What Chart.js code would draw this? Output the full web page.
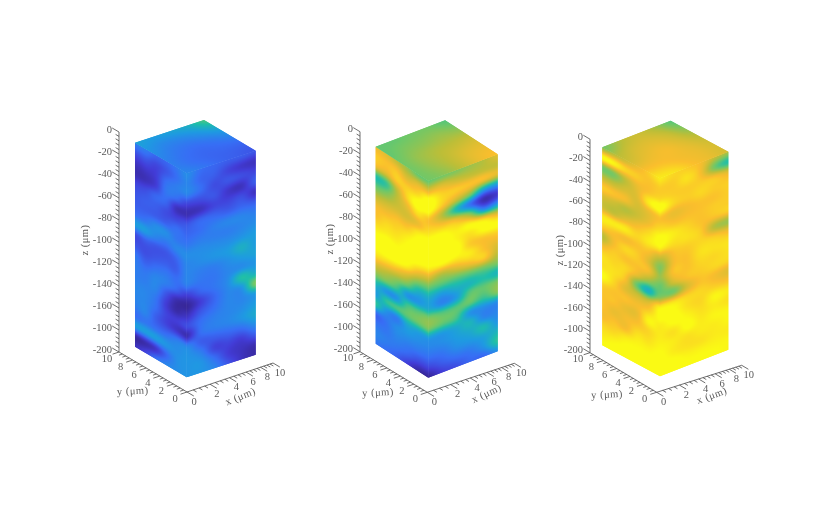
<!DOCTYPE html>
<html>
<head>
<meta charset="utf-8">
<title>Three depth profiles</title>
<style>
  html, body { margin: 0; padding: 0; background: #fff; }
  canvas { display: block; filter: blur(0.3px); }
</style>
<script src="https://cdn.jsdelivr.net/npm/chart.js@4/dist/chart.umd.min.js"></script>
</head>
<body>
<canvas id="chart" width="830" height="507"></canvas>
<script>
'use strict';

/* ── axis ticks ── */
const xTicks = [0, 2, 4, 6, 8, 10];
const yTicks = [0, 2, 4, 6, 8, 10];
const zTicks = [0, -20, -40, -60, -80, -100, -120, -140, -160, -180, -200];
const xyLabels = ['0', '2', '4', '6', '8', '10'];
const zLabels = ['0', '-20', '-40', '-60', '-80', '-100', '-120', '-140', '-160', '-100', '-200'];
const xyMinorStep = 0.5;
const zMinorStep = 4;

/* ── colour values (0-100), one inner array per column, top of the block first ── */
const left1 = [
  [28,16,8,6,14,18,20,24,36,16,18,26,28,28,30,30,28,24,36,4,8],
  [28,18,10,7,16,20,20,26,36,20,16,20,26,28,30,30,30,26,36,6,14],
  [22,14,12,12,22,20,20,32,30,18,18,24,30,30,26,24,20,24,36,10,24],
  [22,18,24,26,22,16,20,32,26,18,20,26,28,18,12,14,14,24,34,22,30],
  [26,24,28,24,8,14,24,26,30,22,20,24,22,6,4,12,10,28,32,32,32],
  [32,30,30,14,6,18,22,26,32,30,30,28,12,2,8,16,6,30,34,34,34]
];
const right1 = [
  [32,30,30,14,6,18,22,26,32,30,30,28,12,2,8,16,6,30,34,34,34],
  [24,22,24,16,8,22,24,28,32,32,28,26,22,12,18,24,24,20,28,34,34],
  [22,20,16,18,14,22,28,28,32,34,28,26,26,22,24,28,28,20,14,24,30],
  [20,14,18,10,14,20,30,28,32,36,32,30,32,30,30,30,30,22,14,12,18],
  [20,10,16,8,16,22,30,30,34,42,36,32,48,34,30,32,34,24,12,8,8],
  [18,8,14,20,8,20,28,32,36,36,38,34,42,62,36,36,40,32,20,6,4]
];
const top1 = [
  [38,36,38,42,54],
  [34,30,30,34,40],
  [30,26,24,26,30],
  [28,24,22,22,22],
  [30,26,22,20,18]
];
const left2 = [
  [80,86,80,48,58,72,82,84,90,96,96,90,76,62,44,36,50,22,26,30,26],
  [78,84,78,52,62,74,82,88,92,98,98,88,72,60,34,50,34,26,26,28,24],
  [72,84,86,72,72,76,84,88,92,96,98,84,66,52,34,54,28,32,30,26,20],
  [66,76,86,88,80,76,84,92,96,98,94,76,58,34,52,58,40,34,28,22,12],
  [58,78,88,98,90,80,92,98,100,96,82,62,42,34,56,60,38,32,26,16,4],
  [58,78,98,98,84,88,96,100,100,92,74,56,40,40,62,62,36,30,24,14,2]
];
const right2 = [
  [58,78,98,98,84,88,96,100,100,92,74,56,40,40,62,62,36,30,24,14,2],
  [60,78,88,86,70,84,96,100,100,94,70,56,36,30,56,58,36,32,26,20,12],
  [62,74,86,74,46,80,92,94,98,92,76,56,42,36,56,54,40,36,32,24,16],
  [66,72,84,62,25,64,94,90,86,92,82,58,44,56,58,34,44,40,34,26,22],
  [70,72,82,38,6,30,88,96,84,84,86,60,48,58,52,32,30,46,38,34,22],
  [78,72,78,36,10,34,78,96,86,78,72,62,44,62,62,32,30,34,44,50,32]
];
const top2 = [
  [58,58,60,60,56],
  [58,62,64,66,64],
  [60,66,70,72,74],
  [60,66,72,78,80],
  [60,64,72,80,84]
];
const left3 = [
  [64,96,60,72,86,76,74,92,86,70,82,90,90,96,86,84,84,82,88,92,96],
  [70,94,62,72,84,74,72,92,84,82,86,88,90,88,84,84,80,84,88,94,97],
  [74,88,72,76,82,70,78,92,82,88,84,88,84,78,84,80,82,82,92,96,97],
  [80,86,80,78,76,74,82,88,84,86,84,80,58,74,82,80,84,90,94,96,97],
  [86,84,84,92,80,80,88,92,84,78,82,66,42,74,86,94,88,90,94,96,97],
  [92,86,88,98,84,88,96,94,74,62,66,58,62,92,96,92,92,94,96,96,97]
];
const right3 = [
  [92,86,88,98,84,88,96,94,74,62,66,58,62,92,96,92,92,94,96,96,97],
  [88,86,86,88,80,84,92,90,84,82,84,76,60,90,96,96,90,92,92,96,97],
  [86,90,86,86,82,84,88,90,86,84,84,84,76,88,90,94,96,90,90,94,96],
  [82,82,86,88,84,84,84,86,88,90,88,86,84,88,88,90,92,92,90,94,96],
  [72,60,84,86,84,86,84,70,86,90,88,88,82,86,94,92,94,92,92,94,96],
  [68,48,78,86,86,86,86,66,82,90,90,88,78,84,92,90,94,94,92,94,94]
];
const top3 = [
  [60,70,74,68,56],
  [70,76,78,74,64],
  [76,80,82,78,72],
  [84,84,82,80,76],
  [92,90,84,80,76]
];

/* ── colour ramp stops ── */
const rampStops = [
  [53,35,140],[66,60,215],[55,110,245],[30,155,225],[30,190,170],
  [110,200,105],[190,190,55],[250,190,45],[250,250,20]
];
const RAMP_TOP = 95;

/* ── panel layout, in canvas units ── */
const panels = [
  { grids: [left1, right1, top1], origin: [187, 392], xVec: [86, -29], yVec: [-68, -40], zLen: 220,
    front: [186.7, 173.3], toLeft: [-51.7, -30.6], toRight: [69, -22.6], height: 204,
    zTitle: [85, 240], yTitle: [132.7, 391.5, -3], xTitle: [240.7, 397, -22] },
  { grids: [left2, right2, top2], origin: [427.3, 392.3], xVec: [87, -29], yVec: [-67.3, -40.6], zLen: 220,
    front: [428.3, 180.7], toLeft: [-52.6, -34], toRight: [69.4, -26.4], height: 197,
    zTitle: [330, 239], yTitle: [378, 393, -3], xTitle: [486.7, 394, -25] },
  { grids: [left3, right3, top3], origin: [656.7, 392.3], xVec: [85, -27], yVec: [-66.7, -39.6], zLen: 213.5,
    front: [660, 178.3], toLeft: [-57.7, -31], toRight: [68.3, -26.6], height: 198,
    zTitle: [560, 250], yTitle: [607, 395, -3], xTitle: [712, 396, -20] }
];

const X_PERSPECTIVE = 0.046;

/* x axis bunches up towards its far end, y and z stay even */
function xFraction(x) {
  return (x * (1 + 10 * X_PERSPECTIVE)) / (10 * (1 + X_PERSPECTIVE * x));
}

function project(panel, x, y, z) {
  const fx = xFraction(x);
  const fy = y / 10;
  const fz = -z / 200;
  return {
    x: panel.origin[0] + panel.xVec[0] * fx + panel.yVec[0] * fy,
    y: panel.origin[1] + panel.xVec[1] * fx + panel.yVec[1] * fy - panel.zLen * (1 - fz)
  };
}

function values(from, to, step) {
  const out = [];
  const n = Math.round((to - from) / step);
  for (let i = 0; i <= n; i++) out.push(from + i * step);
  return out;
}

/* one line dataset per panel: axis lines and ticks, split with null points */
function axisPoints(panel) {
  const pts = [];
  const seg = (a, b) => { pts.push(a, b, { x: null, y: null }); };
  const shift = (p, v, k) => ({ x: p.x + v[0] * k, y: p.y + v[1] * k });
  const yUnit = [panel.yVec[0] / 10, panel.yVec[1] / 10];
  const xUnit = [panel.xVec[0] / 10, panel.xVec[1] / 10];

  seg(project(panel, 0, 0, -200), project(panel, 10, 0, -200));
  seg(project(panel, 0, 0, -200), project(panel, 0, 10, -200));
  seg(project(panel, 0, 10, -200), project(panel, 0, 10, 0));

  values(0, 10, xyMinorStep).forEach(t => {
    const major = xTicks.includes(t);
    const p = project(panel, t, 0, -200);
    seg(p, shift(p, yUnit, major ? -1 : -0.5));
    const q = project(panel, 0, t, -200);
    seg(q, shift(q, xUnit, major ? -0.75 : -0.4));
  });
  values(-200, 0, zMinorStep).forEach(t => {
    const major = zTicks.includes(t);
    const p = project(panel, 0, 10, t);
    seg(p, shift(p, yUnit, major ? 1 : 0.5));
  });
  return pts;
}

function rampColour(v) {
  const t = Math.min(1, Math.max(0, v / RAMP_TOP)) * (rampStops.length - 1);
  const i = Math.min(rampStops.length - 2, Math.floor(t));
  const f = t - i;
  return rampStops[i].map((c, k) => c + (rampStops[i + 1][k] - c) * f);
}

function cubic(a, b, c, d, t) {
  return b + 0.5 * t * (c - a + t * (2 * a - 5 * b + 4 * c - d + t * (3 * (b - c) + d - a)));
}

/* smooth shading across the grid */
function shade(grid, u, v) {
  const cols = grid.length, rows = grid[0].length;
  const cu = u * (cols - 1), cv = v * (rows - 1);
  const iu = Math.min(cols - 2, Math.floor(cu)), iv = Math.min(rows - 2, Math.floor(cv));
  const column = k => {
    const col = grid[Math.max(0, Math.min(cols - 1, k))];
    const at = r => col[Math.max(0, Math.min(rows - 1, r))];
    return cubic(at(iv - 1), at(iv), at(iv + 1), at(iv + 2), cv - iv);
  };
  return cubic(column(iu - 1), column(iu), column(iu + 1), column(iu + 2), cu - iu);
}

function faceImage(grid, w, h) {
  const off = document.createElement('canvas');
  off.width = w;
  off.height = h;
  const g = off.getContext('2d');
  const img = g.createImageData(w, h);
  for (let j = 0; j < h; j++) {
    for (let i = 0; i < w; i++) {
      const rgb = rampColour(shade(grid, i / (w - 1), j / (h - 1)));
      const o = (j * w + i) * 4;
      img.data[o] = rgb[0];
      img.data[o + 1] = rgb[1];
      img.data[o + 2] = rgb[2];
      img.data[o + 3] = 255;
    }
  }
  g.putImageData(img, 0, 0);
  return off;
}

function drawFace(ctx, sx, sy, grid, p0, pU, pV) {
  const w = 160, h = 320;
  const x0 = sx.getPixelForValue(p0[0]), y0 = sy.getPixelForValue(p0[1]);
  const xU = sx.getPixelForValue(pU[0]), yU = sy.getPixelForValue(pU[1]);
  const xV = sx.getPixelForValue(pV[0]), yV = sy.getPixelForValue(pV[1]);
  const image = faceImage(grid, w, h);
  ctx.save();
  ctx.imageSmoothingEnabled = true;
  ctx.imageSmoothingQuality = 'high';
  ctx.transform((xU - x0) / w, (yU - y0) / w, (xV - x0) / h, (yV - y0) / h, x0, y0);
  // twice, so the shared edges don't show the white page through
  ctx.drawImage(image, 0, 0);
  ctx.drawImage(image, 0, 0);
  ctx.restore();
}

const blockPlugin = {
  id: 'blocks',
  beforeDatasetsDraw(chart) {
    const { ctx, scales: { x: sx, y: sy } } = chart;
    panels.forEach(p => {
      const f = p.front;
      const l = [f[0] + p.toLeft[0], f[1] + p.toLeft[1]];
      const r = [f[0] + p.toRight[0], f[1] + p.toRight[1]];
      const back = [l[0] + p.toRight[0], l[1] + p.toRight[1]];
      drawFace(ctx, sx, sy, p.grids[0], l, f, [l[0], l[1] + p.height]);
      drawFace(ctx, sx, sy, p.grids[1], f, r, [f[0], f[1] + p.height]);
      drawFace(ctx, sx, sy, p.grids[2], l, f, back);
    });
  }
};

const labelPlugin = {
  id: 'axisText',
  afterDatasetsDraw(chart) {
    const { ctx, scales: { x: sx, y: sy } } = chart;
    const text = (s, x, y, align, rot) => {
      ctx.save();
      ctx.translate(sx.getPixelForValue(x), sy.getPixelForValue(y));
      if (rot) ctx.rotate(rot * Math.PI / 180);
      ctx.textAlign = align;
      ctx.textBaseline = 'middle';
      ctx.fillText(s, 0, 0);
      ctx.restore();
    };
    ctx.save();
    ctx.fillStyle = '#5a5a5a';
    ctx.font = '10.5px "Liberation Serif", serif';
    panels.forEach(p => {
      zTicks.forEach((t, i) => {
        const q = project(p, 0, 10, t);
        text(zLabels[i], q.x - 7, q.y - 2, 'right');
      });
      xTicks.forEach((t, i) => {
        const q = project(p, t, 0, -200);
        text(xyLabels[i], q.x + 7, q.y + 10, 'center');
      });
      yTicks.forEach((t, i) => {
        const q = project(p, 0, t, -200);
        text(xyLabels[i], q.x - 12, q.y + 7, 'center');
      });
      ctx.letterSpacing = '0.5px';
      text('z (μm)', p.zTitle[0], p.zTitle[1], 'center', -90);
      text('y (μm)', p.yTitle[0], p.yTitle[1], 'center', p.yTitle[2]);
      text('x (μm)', p.xTitle[0], p.xTitle[1], 'center', p.xTitle[2]);
      ctx.letterSpacing = '0px';
    });
    ctx.restore();
  }
};

new Chart(document.getElementById('chart'), {
  type: 'scatter',
  data: {
    datasets: panels.map(p => ({
      data: axisPoints(p),
      showLine: true,
      spanGaps: false,
      borderColor: '#4a4a4a',
      borderWidth: 0.8,
      pointRadius: 0,
      tension: 0
    }))
  },
  options: {
    responsive: false,
    animation: false,
    layout: { padding: 0 },
    plugins: { legend: { display: false }, tooltip: { enabled: false } },
    scales: {
      x: { type: 'linear', display: false, min: 0, max: 830 },
      y: { type: 'linear', display: false, min: 0, max: 507, reverse: true }
    }
  },
  plugins: [blockPlugin, labelPlugin]
});
</script>
</body>
</html>
